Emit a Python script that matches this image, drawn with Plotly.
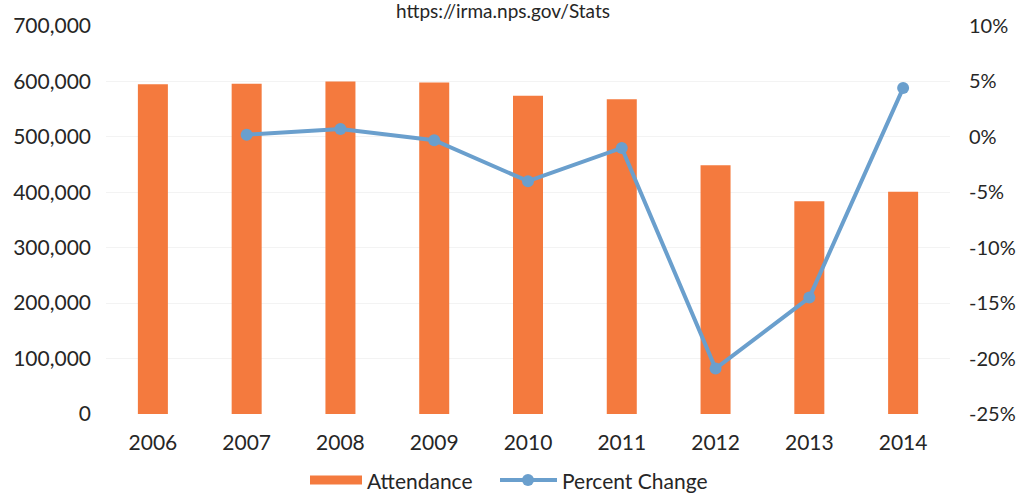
import plotly.graph_objects as go

# Annual park attendance and year-over-year percent change
years = ["2006", "2007", "2008", "2009", "2010", "2011", "2012", "2013", "2014"]
attendance = [595000, 596000, 600000, 598000, 574000, 568000, 449000, 384000, 401000]
percent_change = [None, 0.2, 0.7, -0.3, -4.0, -1.0, -20.9, -14.5, 4.4]

left_ticks = list(range(0, 700001, 100000))
right_ticks = list(range(-25, 11, 5))
right_labels = [f"{v}%" for v in right_ticks]

ORANGE = "#F47A3E"
BLUE = "#6A9FCD"
FONT = "Lato"
TEXT = "#262626"
FS = 21

W, H = 1021, 495
ML, MR, MT, MB = 106, 71, 26, 81
PW, PH = W - ML - MR, H - MT - MB


def px(x):
    """Horizontal pixel -> paper coordinate."""
    return (x - ML) / PW


def py(y):
    """Vertical pixel -> paper coordinate."""
    return (H - MB - y) / PH


fig = go.Figure()

fig.add_trace(go.Bar(
    x=years, y=attendance, name="Attendance",
    marker=dict(color=ORANGE, line=dict(width=0)),
    width=0.32, yaxis="y", showlegend=False,
))

fig.add_trace(go.Scatter(
    x=years, y=percent_change, name="Percent Change",
    mode="lines+markers",
    line=dict(color=BLUE, width=4),
    marker=dict(color=BLUE, size=12),
    yaxis="y2", showlegend=False,
))

# Legend drawn below the axis: swatch + label for each series
leg_y = 480
shapes = [
    dict(type="rect", xref="paper", yref="paper",
         x0=px(310), x1=px(362), y0=py(leg_y + 4.5), y1=py(leg_y - 4.5),
         fillcolor=ORANGE, line=dict(width=0)),
    dict(type="line", xref="paper", yref="paper",
         x0=px(500), x1=px(557), y0=py(leg_y), y1=py(leg_y),
         line=dict(color=BLUE, width=4)),
    dict(type="circle", xref="paper", yref="paper",
         x0=px(522), x1=px(534), y0=py(leg_y + 6), y1=py(leg_y - 6),
         fillcolor=BLUE, line=dict(width=0)),
]

annotations = [
    dict(text="https://irma.nps.gov/Stats",
         xref="paper", yref="paper", x=px(503), y=py(11),
         xanchor="center", yanchor="middle",
         showarrow=False, font=dict(family=FONT, size=19, color=TEXT)),
    dict(text="Attendance", xref="paper", yref="paper",
         x=px(365), y=py(leg_y), xanchor="left", yanchor="middle",
         showarrow=False, font=dict(family=FONT, size=FS, color=TEXT)),
    dict(text="Percent Change", xref="paper", yref="paper",
         x=px(560), y=py(leg_y), xanchor="left", yanchor="middle",
         showarrow=False, font=dict(family=FONT, size=FS, color=TEXT)),
]

fig.update_layout(
    width=W, height=H,
    margin=dict(l=ML, r=MR, t=MT, b=MB, autoexpand=False),
    paper_bgcolor="white", plot_bgcolor="white",
    font=dict(family=FONT, size=FS, color=TEXT),
    showlegend=False,
    xaxis=dict(
        type="category", range=[-0.5, 8.5], automargin=False,
        showgrid=False, showline=False, zeroline=False,
        ticks="", tickfont=dict(size=FS),
        ticklabelstandoff=14,
    ),
    yaxis=dict(
        range=[0, 700000], tickvals=left_ticks, automargin=False,
        tickformat=",d", showgrid=True, gridcolor="#f3f3f3",
        zeroline=False, showline=False, ticks="",
        tickfont=dict(size=FS), ticklabelstandoff=14,
    ),
    yaxis2=dict(
        overlaying="y", side="right", automargin=False,
        range=[-25, 10], tickvals=right_ticks, ticktext=right_labels,
        showgrid=False, zeroline=False, showline=False, ticks="",
        tickfont=dict(size=20), ticklabelstandoff=18,
    ),
    shapes=shapes,
    annotations=annotations,
)

fig.write_html("out.html")
